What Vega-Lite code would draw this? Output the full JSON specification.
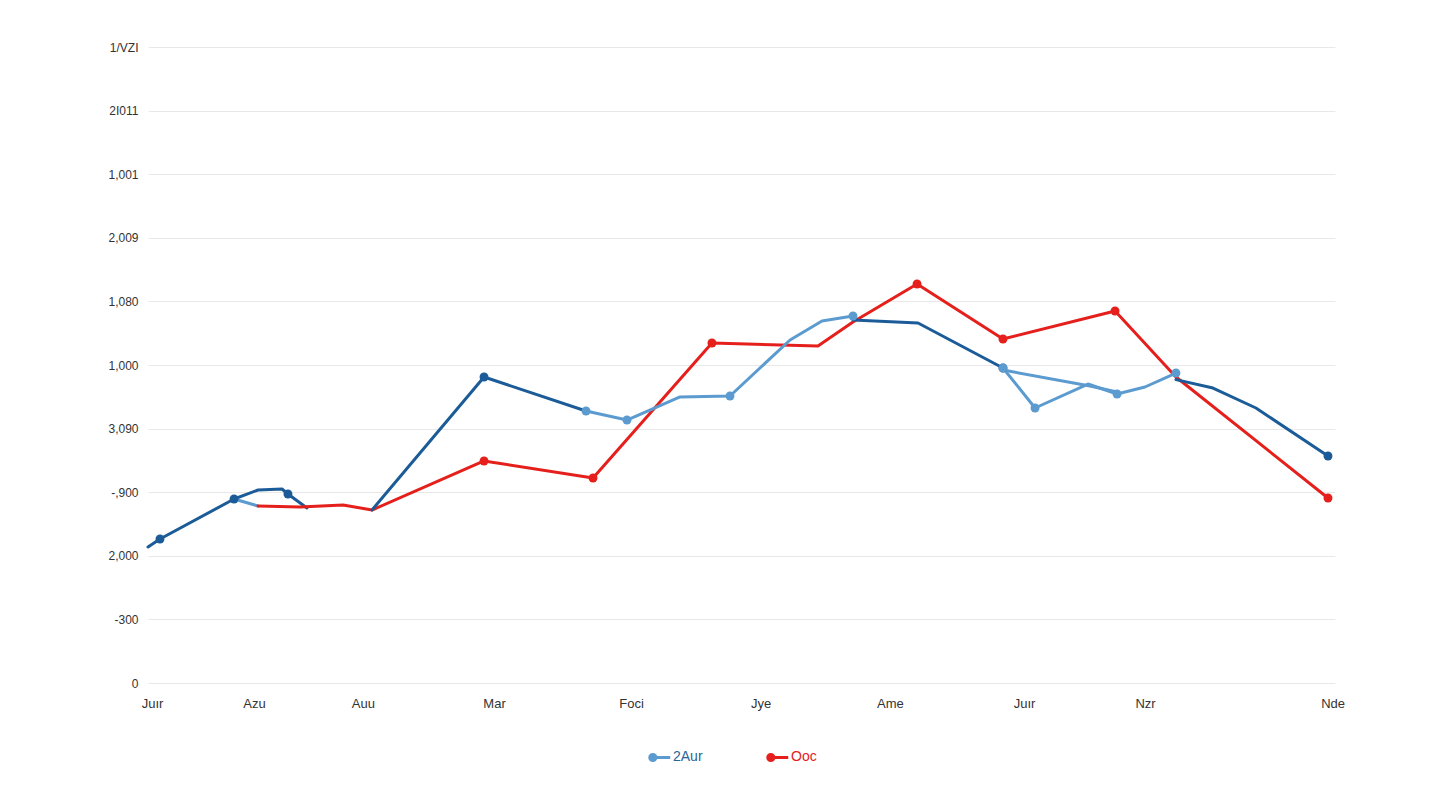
{
  "$schema": "https://vega.github.io/schema/vega-lite/v6.json",
  "width": 1187,
  "height": 636,
  "autosize": "none",
  "padding": {"left": 148, "top": 47, "right": 105, "bottom": 127},
  "background": "#ffffff",
  "config": {"view": {"stroke": null}},
  "data": {"values": [
    {"c": "d", "seg": "d1", "o": 1, "x": 0, "y": 213.8, "pt": false},
    {"c": "d", "seg": "d1", "o": 2, "x": 1.01, "y": 226.4, "pt": true},
    {"c": "d", "seg": "d1", "o": 3, "x": 7.25, "y": 289.3, "pt": true},
    {"c": "d", "seg": "d1", "o": 4, "x": 9.27, "y": 303.5, "pt": false},
    {"c": "d", "seg": "d1", "o": 5, "x": 11.29, "y": 305.0, "pt": false},
    {"c": "d", "seg": "d1", "o": 6, "x": 11.79, "y": 297.2, "pt": true},
    {"c": "d", "seg": "d1", "o": 7, "x": 13.39, "y": 275.2, "pt": false},
    {"c": "2Aur", "seg": "l1", "o": 1, "x": 7.25, "y": 289.3, "pt": false},
    {"c": "2Aur", "seg": "l1", "o": 2, "x": 9.27, "y": 278.3, "pt": false},
    {"c": "Ooc", "seg": "r", "o": 1, "x": 9.27, "y": 278.3, "pt": false},
    {"c": "Ooc", "seg": "r", "o": 2, "x": 12.81, "y": 276.7, "pt": false},
    {"c": "Ooc", "seg": "r", "o": 3, "x": 16.43, "y": 279.9, "pt": false},
    {"c": "Ooc", "seg": "r", "o": 4, "x": 18.87, "y": 272.0, "pt": false},
    {"c": "Ooc", "seg": "r", "o": 5, "x": 28.31, "y": 349.1, "pt": true},
    {"c": "Ooc", "seg": "r", "o": 6, "x": 37.49, "y": 322.3, "pt": true},
    {"c": "Ooc", "seg": "r", "o": 7, "x": 47.51, "y": 534.6, "pt": true},
    {"c": "Ooc", "seg": "r", "o": 8, "x": 56.44, "y": 529.9, "pt": false},
    {"c": "Ooc", "seg": "r", "o": 9, "x": 59.39, "y": 567.6, "pt": false},
    {"c": "Ooc", "seg": "r", "o": 10, "x": 64.79, "y": 627.4, "pt": true},
    {"c": "Ooc", "seg": "r", "o": 11, "x": 72.03, "y": 540.9, "pt": true},
    {"c": "Ooc", "seg": "r", "o": 12, "x": 81.47, "y": 584.9, "pt": true},
    {"c": "Ooc", "seg": "r", "o": 13, "x": 86.6, "y": 481.1, "pt": false},
    {"c": "Ooc", "seg": "r", "o": 14, "x": 99.41, "y": 290.9, "pt": true},
    {"c": "d", "seg": "d2", "o": 1, "x": 18.87, "y": 272.0, "pt": false},
    {"c": "d", "seg": "d2", "o": 2, "x": 28.31, "y": 481.1, "pt": true},
    {"c": "d", "seg": "d2", "o": 3, "x": 36.9, "y": 427.7, "pt": false},
    {"c": "2Aur", "seg": "l2", "o": 1, "x": 36.9, "y": 427.7, "pt": true},
    {"c": "2Aur", "seg": "l2", "o": 2, "x": 40.35, "y": 413.5, "pt": true},
    {"c": "2Aur", "seg": "l2", "o": 3, "x": 44.82, "y": 449.7, "pt": false},
    {"c": "2Aur", "seg": "l2", "o": 4, "x": 49.03, "y": 451.3, "pt": true},
    {"c": "2Aur", "seg": "l2", "o": 5, "x": 54.09, "y": 539.3, "pt": false},
    {"c": "2Aur", "seg": "l2", "o": 6, "x": 56.78, "y": 569.2, "pt": false},
    {"c": "2Aur", "seg": "l2", "o": 7, "x": 59.39, "y": 577.0, "pt": true},
    {"c": "d", "seg": "d3", "o": 1, "x": 59.39, "y": 570.8, "pt": false},
    {"c": "d", "seg": "d3", "o": 2, "x": 64.87, "y": 566.0, "pt": false},
    {"c": "d", "seg": "d3", "o": 3, "x": 72.03, "y": 495.3, "pt": true},
    {"c": "2Aur", "seg": "l3", "o": 1, "x": 72.03, "y": 495.3, "pt": true},
    {"c": "2Aur", "seg": "l3", "o": 2, "x": 74.73, "y": 432.4, "pt": true},
    {"c": "2Aur", "seg": "l3", "o": 3, "x": 79.19, "y": 470.1, "pt": false},
    {"c": "2Aur", "seg": "l3", "o": 4, "x": 81.64, "y": 454.4, "pt": true},
    {"c": "2Aur", "seg": "l3", "o": 5, "x": 83.99, "y": 465.4, "pt": false},
    {"c": "2Aur", "seg": "l3", "o": 6, "x": 86.6, "y": 487.4, "pt": true},
    {"c": "2Aur", "seg": "l4", "o": 1, "x": 72.03, "y": 492.1, "pt": false},
    {"c": "2Aur", "seg": "l4", "o": 2, "x": 79.36, "y": 467.0, "pt": false},
    {"c": "2Aur", "seg": "l4", "o": 3, "x": 81.64, "y": 457.5, "pt": false},
    {"c": "d", "seg": "d4", "o": 1, "x": 86.6, "y": 477.0, "pt": false},
    {"c": "d", "seg": "d4", "o": 2, "x": 89.72, "y": 463.8, "pt": false},
    {"c": "d", "seg": "d4", "o": 3, "x": 93.34, "y": 432.4, "pt": false},
    {"c": "d", "seg": "d4", "o": 4, "x": 99.41, "y": 356.9, "pt": true}
  ]},
  "encoding": {
    "x": {
      "field": "x", "type": "quantitative",
      "scale": {"domain": [0, 100], "nice": false, "zero": false},
      "axis": {
        "title": null, "grid": false, "domain": false, "ticks": false,
        "values": [0.34, 8.93, 18.1, 29.15, 40.7, 51.6, 62.5, 73.8, 84.0, 99.8],
        "labelExpr": "['Juır','Azu','Auu','Mar','Foci','Jye','Ame','Juır','Nzr','Nde'][indexof([0.34, 8.93, 18.1, 29.15, 40.7, 51.6, 62.5, 73.8, 84.0, 99.8], datum.value)]",
        "labelPadding": 14, "labelFontSize": 13, "labelColor": "#333333",
        "labelFont": "Liberation Sans", "labelFlush": false, "labelOverlap": false
      }
    },
    "y": {
      "field": "y", "type": "quantitative",
      "scale": {"domain": [0, 1000], "nice": false},
      "axis": {
        "title": null, "domain": false, "ticks": false,
        "values": [0, 100, 200, 300, 400, 500, 600, 700, 800, 900, 1000],
        "labelExpr": "['0','-300','2,000','-,900','3,090','1,000','1,080','2,009','1,001','2I011','1/VZI'][round(datum.value/100)]",
        "labelPadding": 10, "labelFontSize": 12, "labelColor": "#333333",
        "labelFont": "Liberation Sans",
        "gridColor": "#e8e8e8", "gridWidth": 1
      }
    },
    "color": {
      "field": "c", "type": "nominal",
      "scale": {"domain": ["2Aur", "Ooc", "d"], "range": ["#5b9bd0", "#e5201c", "#1b5c98"]},
      "legend": {
        "title": null, "orient": "none", "direction": "horizontal",
        "legendX": 500, "legendY": 698,
        "values": ["2Aur", "Ooc"], "columnPadding": 58,
        "symbolType": "M -1 0 A 0.3 0.3 0 1 0 -0.4 0 A 0.3 0.3 0 1 0 -1 0 Z M -0.4 0 L 1 0",
        "symbolSize": 420, "symbolStrokeWidth": 3,
        "labelFontSize": 14, "labelFont": "Liberation Sans", "labelOffset": 1,
        "encode": {
          "labels": {"update": {"fill": {"signal": "datum.value === 'Ooc' ? '#e5201c' : '#2a6496'"}}},
          "symbols": {"update": {
            "fill": {"signal": "datum.value === 'Ooc' ? '#4a5a78' : '#5b9bd0'"},
            "stroke": {"signal": "datum.value === 'Ooc' ? '#e5201c' : '#5b9bd0'"},
            "opacity": {"value": 1}
          }}
        }
      }
    }
  },
  "layer": [
    {
      "mark": {"type": "line", "strokeWidth": 3, "strokeJoin": "round", "strokeCap": "round"},
      "encoding": {"detail": {"field": "seg"}, "order": {"field": "o"}}
    },
    {
      "transform": [{"filter": "datum.pt"}],
      "mark": {"type": "circle", "size": 80, "opacity": 1},
      "encoding": {}
    }
  ]
}
